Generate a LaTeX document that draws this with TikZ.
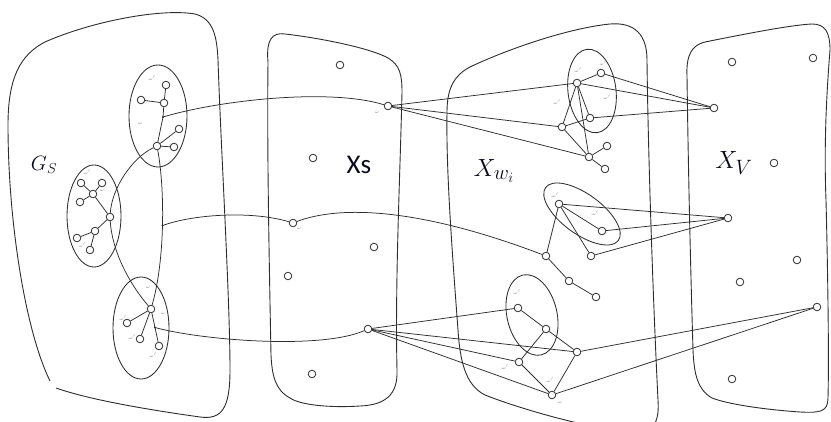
\documentclass[tikz,border=0pt]{standalone}
\usepackage{fontspec}
\newfontfamily\labelsans{Carlito}
\definecolor{ink}{RGB}{45,45,45}
\definecolor{labelink}{RGB}{10,12,28}
\begin{document}
\begin{tikzpicture}[x=1pt,y=-1pt,
  blob/.style={draw=ink, line width=0.9pt},
  grp/.style={draw=ink, line width=0.85pt},
  vtx/.style={circle, draw=ink, fill=white, line width=0.8pt, inner sep=0pt, minimum size=7.6pt},
  edge/.style={draw=ink, line width=0.75pt},
  tag/.style={font=\fontsize{3.6}{4}\selectfont, text=black!45, inner sep=0pt},
  setlabel/.style={text=labelink, inner sep=0pt}]
\useasboundingbox (0,0) rectangle (831,422);
\clip (0,0) rectangle (831,422);

% ---------- the four regions ----------
% G_S (left side left open at the bottom)
\draw[blob] (50,381) .. controls (25,330) and (8,220) .. (8,125)
  .. controls (8,78) and (20,55) .. (45,42)
  .. controls (90,22) and (160,8) .. (195,14)
  .. controls (214,19) and (217,38) .. (218,60)
  .. controls (221,150) and (230,300) .. (230,370)
  .. controls (230,408) and (222,420) .. (200,417)
  .. controls (150,410) and (90,400) .. (56,388);
% X_s
\draw[blob] (268,62) .. controls (266,40) and (272,32) .. (285,34)
  .. controls (320,38) and (370,48) .. (388,58)
  .. controls (400,65) and (402,75) .. (402,92)
  .. controls (400,180) and (395,280) .. (397,370)
  .. controls (398,395) and (385,405) .. (360,406)
  .. controls (330,408) and (300,405) .. (290,398)
  .. controls (275,390) and (272,375) .. (271,355)
  .. controls (269,250) and (267,150) .. cycle;
% X_{w_i}
\draw[blob] (447,112) .. controls (447,87) and (455,75) .. (470,67)
  .. controls (510,48) and (570,28) .. (610,24)
  .. controls (635,22) and (647,35) .. (647,60)
  .. controls (648,150) and (653,300) .. (658,400)
  .. controls (660,428) and (650,436) .. (620,431)
  .. controls (570,424) and (510,405) .. (485,395)
  .. controls (465,385) and (460,360) .. (458,330)
  .. controls (452,250) and (446,170) .. cycle;
% X_V
\draw[blob] (687,76) .. controls (686,55) and (692,45) .. (705,42)
  .. controls (740,35) and (790,25) .. (812,24)
  .. controls (825,24) and (830,32) .. (830,50)
  .. controls (826,100) and (824,150) .. (826,200)
  .. controls (828,280) and (829,360) .. (828,398)
  .. controls (828,412) and (820,413) .. (800,412)
  .. controls (770,410) and (730,405) .. (712,398)
  .. controls (698,390) and (694,375) .. (693,350)
  .. controls (690,250) and (688,150) .. cycle;

% ---------- groups inside G_S ----------
\draw[grp] (158,116) ellipse [x radius=29, y radius=51];
\draw[grp] (94,216) ellipse [x radius=27, y radius=51];
\draw[grp] (141,328) ellipse [x radius=28, y radius=51];

\node[vtx] (g1a) at (166,85) {};
\node[vtx] (g1h) at (164,103) {};
\node[vtx] (g1b) at (141,100) {};
\node[vtx] (g1c) at (179,129) {};
\node[vtx] (g1k) at (157,146) {};
\node[vtx] (g1d) at (174,147) {};
\coordinate (d1) at (163,117);

\node[vtx] (g2a) at (81,183) {};
\node[vtx] (g2b) at (102,183) {};
\node[vtx] (g2m) at (93,194) {};
\node[vtx] (g2c) at (80,202) {};
\node[vtx] (g2h) at (110,217) {};
\node[vtx] (g2n) at (95,231) {};
\node[vtx] (g2d) at (77,238) {};
\node[vtx] (g2e) at (90,250) {};

\node[vtx] (g3h) at (151,309) {};
\node[vtx] (g3a) at (127,323) {};
\node[vtx] (g3b) at (140,339) {};
\node[vtx] (g3c) at (159,346) {};

\draw[edge] (g1a) -- (g1h);
\draw[edge] (g1b) -- (g1h);
\draw[edge] (g1h) -- (d1) -- (g1k);
\draw[edge] (g1k) -- (g1c);
\draw[edge] (g1k) -- (g1d);
\draw[edge] (g2a) -- (g2m);
\draw[edge] (g2b) -- (g2m);
\draw[edge] (g2c) -- (g2m);
\draw[edge] (g2m) -- (g2h);
\draw[edge] (g2h) -- (g2n);
\draw[edge] (g2n) -- (g2d);
\draw[edge] (g2n) -- (g2e);
\draw[edge] (g3h) -- (g3a);
\draw[edge] (g3h) -- (g3b);
\draw[edge] (g3h) -- (g3c) coordinate[pos=0.5] (d3);
\draw[edge] (g1k) .. controls (165,190) and (165,260) .. (g3h) coordinate[pos=0.5] (d2);
\draw[edge] (g1k) .. controls (132,158) and (112,188) .. (g2h);
\draw[edge] (g2h) .. controls (112,250) and (128,282) .. (g3h);
\foreach \d in {d1,d2,d3} \fill[ink] (\d) circle (1.1pt);

% ---------- X_s ----------
\node[vtx] (s1) at (340,65) {};
\node[vtx] (s2) at (388,106) {};
\node[vtx] (s3) at (313,158) {};
\node[vtx] (s4) at (293,223) {};
\node[vtx] (s5) at (374,247) {};
\node[vtx] (s6) at (288,276) {};
\node[vtx] (s7) at (368,329) {};
\node[vtx] (s8) at (312,374) {};

% ---------- X_{w_i} ----------
\draw[grp] (592,91) ellipse [x radius=24, y radius=42, rotate=7];
\draw[grp] (582,214) ellipse [x radius=45, y radius=20, rotate=-36];
\draw[grp] (532,315) ellipse [x radius=25, y radius=41, rotate=13];

\node[vtx] (wA) at (577,83) {};
\node[vtx] (wB) at (601,73) {};
\node[vtx] (wC) at (590,118) {};
\node[vtx] (wD) at (562,127) {};
\node[vtx] (wE) at (589,157) {};
\node[vtx] (wF) at (607,146) {};
\node[vtx] (wG) at (605,169) {};
\node[vtx] (wH) at (559,204) {};
\node[vtx] (wI) at (602,231) {};
\node[vtx] (wJ) at (591,256) {};
\node[vtx] (wK) at (546,256) {};
\node[vtx] (wL) at (569,281) {};
\node[vtx] (wM) at (596,297) {};
\node[vtx] (wN) at (518,308) {};
\node[vtx] (wO) at (546,329) {};
\node[vtx] (wP) at (577,352) {};
\node[vtx] (wQ) at (519,362) {};
\node[vtx] (wR) at (552,395) {};

\foreach \a/\b in {wA/wB, wA/wD, wA/wC, wA/wE, wD/wC, wD/wE, wE/wF, wE/wG,
                   wH/wI, wH/wJ, wH/wK, wK/wL, wL/wM,
                   wN/wO, wO/wP, wO/wQ, wQ/wR, wP/wR}
  \draw[edge] (\a) -- (\b);

% ---------- X_V ----------
\node[vtx] (v1) at (732,62) {};
\node[vtx] (v2) at (813,58) {};
\node[vtx] (v3) at (714,108) {};
\node[vtx] (v4) at (774,163) {};
\node[vtx] (v5) at (728,218) {};
\node[vtx] (v6) at (797,260) {};
\node[vtx] (v7) at (740,282) {};
\node[vtx] (v8) at (817,307) {};
\node[vtx] (v9) at (732,379) {};

% ---------- links between the regions ----------
\draw[edge] (d1) .. controls (220,100) and (330,88) .. (s2);
\draw[edge] (d2) .. controls (190,215) and (250,210) .. (s4);
\draw[edge] (s4) .. controls (340,205) and (420,208) .. (wK);
\draw[edge] (d3) .. controls (200,340) and (320,350) .. (s7);
\foreach \t in {wA,wD,wE} \draw[edge] (s2) -- (\t);
\foreach \t in {wN,wP,wQ,wR} \draw[edge] (s7) -- (\t);
\foreach \t in {wA,wB,wC} \draw[edge] (v3) -- (\t);
\foreach \t in {wH,wI,wJ} \draw[edge] (v5) -- (\t);
\foreach \t in {wP,wR} \draw[edge] (v8) -- (\t);

% ---------- small vertex marks ----------
\foreach \p/\m in {{(152,78)}/{$\omega'$}, {(140,123)}/{$\omega$},
                   {(87,172)}/{$\omega'$}, {(102,190)}/{$\omega$}, {(82,245)}/{$\omega'$},
                   {(148,287)}/{$\omega$}, {(163,313)}/{$\omega$}, {(123,318)}/{$\omega'$},
                   {(132,337)}/{$\omega'$}, {(153,355)}/{$\omega'$},
                   {(377,112)}/{$\omega$}, {(299,228)}/{$\omega$},
                   {(578,70)}/{$\omega'$}, {(603,63)}/{$\omega'$}, {(607,97)}/{$\omega'$}, {(557,102)}/{$\omega'$},
                   {(555,195)}/{$\omega'$}, {(595,213)}/{$\omega'$},
                   {(517,292)}/{$\omega'$}, {(505,367)}/{$\omega'$}, {(550,380)}/{$\omega'$}, {(560,402)}/{$\omega$}}
  \node[tag] at \p {\m};

% ---------- region names ----------
\node[setlabel, font=\fontsize{20}{20}\selectfont] (lgs) at (44,165) {$G_S$};
\node[setlabel, font=\labelsans\fontsize{27}{27}\selectfont] (lxs) at (359,165) {Xs};
\node[setlabel, font=\fontsize{30}{30}\selectfont] (lxw) at (494,171) {$X_{w_i}$};
\node[setlabel, font=\fontsize{28}{28}\selectfont] (lxv) at (734,163) {$X_V$};
\end{tikzpicture}
\end{document}
